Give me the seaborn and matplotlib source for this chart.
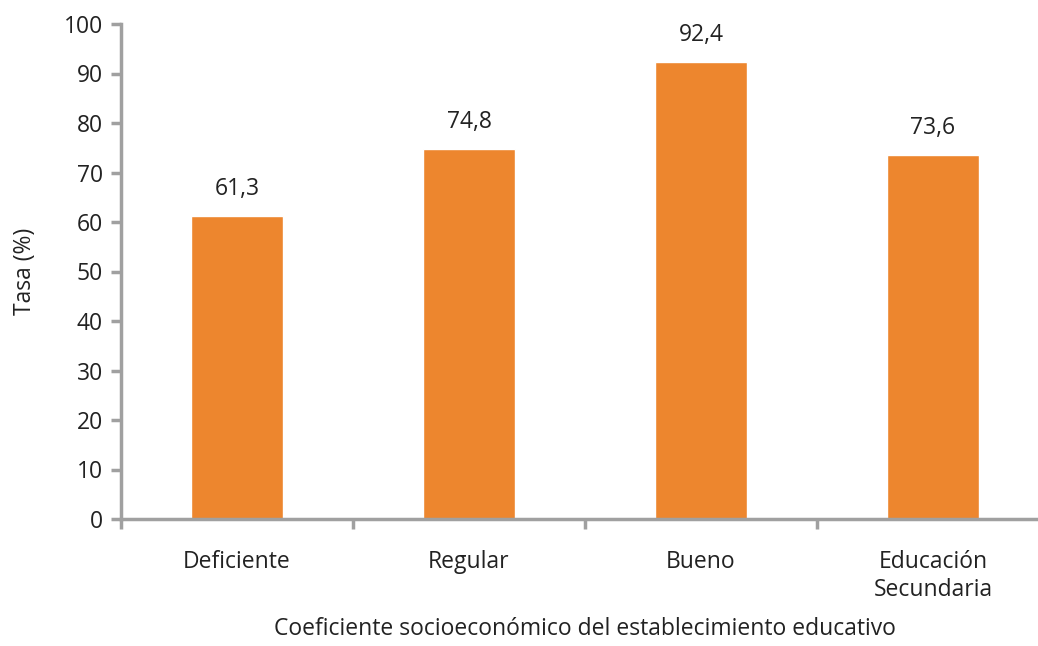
import matplotlib
matplotlib.use("Agg")
import matplotlib.pyplot as plt
import seaborn as sns
import pandas as pd

categories = ["Deficiente", "Regular", "Bueno", "Educación\nSecundaria"]
tasa = [61.3, 74.8, 92.4, 73.6]
labels = ["61,3", "74,8", "92,4", "73,6"]

df = pd.DataFrame({"cat": categories, "tasa": tasa})

sns.set_style("white")
plt.rcParams["font.family"] = ["Open Sans", "DejaVu Sans"]

fs = 16.5
txt = "#222222"

fig = plt.figure(figsize=(10.38, 6.46), dpi=100)
ax = fig.add_axes([121 / 1038, 1 - 519 / 646, 928 / 1038, 495 / 646])

sns.barplot(data=df, x="cat", y="tasa", color="#ED862E", width=0.4,
            saturation=1, ax=ax)

for i, (v, lab) in enumerate(zip(tasa, labels)):
    ax.text(i, v + 3, lab, ha="center", va="bottom", fontsize=fs, color=txt)

ax.set_xlim(-0.5, 3.5)
ax.set_ylim(0, 100)
ax.set_yticks(range(0, 101, 10))

gray = "#A0A0A0"
for s in ["top", "right"]:
    ax.spines[s].set_visible(False)
for s in ["left", "bottom"]:
    ax.spines[s].set_color(gray)
    ax.spines[s].set_linewidth(2.5)

ax.set_xticks([0, 1, 2, 3])
ax.set_xticklabels(categories, linespacing=1.25)
ax.set_xticks([-0.5, 0.5, 1.5, 2.5, 3.5], minor=True)
ax.tick_params(axis="x", which="major", length=0, pad=22, labelsize=fs,
               labelcolor=txt)
ax.tick_params(axis="x", which="minor", length=7, width=2.5, color=gray,
               direction="out", bottom=True)
ax.tick_params(axis="y", length=7, width=2.5, color=gray, direction="out",
               left=True, pad=6, labelsize=fs, labelcolor=txt)

ax.set_ylabel("Tasa (%)", fontsize=fs, color=txt, labelpad=19)
ax.set_xlabel("Coeficiente socioeconómico del establecimiento educativo",
              fontsize=fs, color=txt, labelpad=11)

fig.savefig("out.png", dpi=100)
